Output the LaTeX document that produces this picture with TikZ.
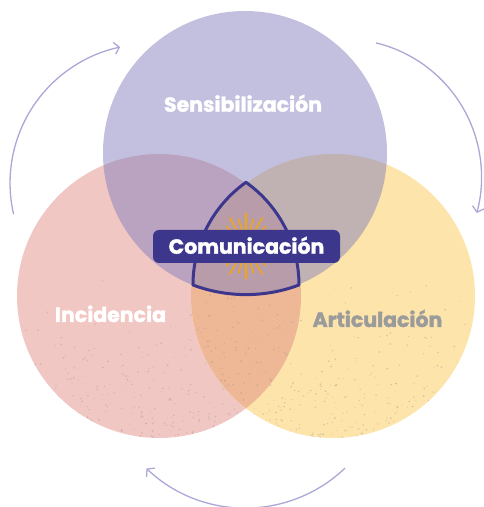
\documentclass[tikz,border=0pt]{standalone}
\usepackage{fontspec}
\setmainfont{Poppins}[BoldFeatures={FakeBold=1.6}]
\usetikzlibrary{arrows.meta}
\definecolor{sensbg}{RGB}{133,129,189}
\definecolor{incbg}{RGB}{241,199,196}
\definecolor{artbg}{RGB}{252,228,170}
\definecolor{mixbg}{RGB}{238,184,150}
\definecolor{combg}{RGB}{60,55,140}
\definecolor{loopc}{RGB}{170,168,215}
\definecolor{raysc}{RGB}{243,168,10}
\definecolor{artfg}{RGB}{155,155,155}
\definecolor{grain}{RGB}{150,140,140}

\begin{document}
\begin{tikzpicture}[x=1pt,y=1pt,font=\bfseries\fontsize{20.5}{24}\selectfont,
    lbl/.style={anchor=base,text=white},
    combox/.style={fill=combg,text=white,rounded corners=6pt,minimum width=187pt,
      minimum height=33pt,text height=14.5pt,text depth=0pt,inner sep=0pt},
    roundarrow/.style={draw=loopc,line width=1.3pt,-{Straight Barb[length=5pt,width=12pt]}},
    ray/.style={draw=raysc,line width=1.4pt},
    speck/.style={fill=grain,fill opacity=0.35}]
  \useasboundingbox (0,0) rectangle (483,507);
  \fill[incbg] (159,211) circle[radius=142];
  \fill[artbg] (333,211) circle[radius=142];
  \begin{scope}
    \clip (159,211) circle[radius=142];
    \fill[mixbg] (333,211) circle[radius=142];
  \end{scope}
  \pgfmathsetseed{17}
  \foreach \cx in {159,333}{
    \begin{scope}
      \clip (\cx,211) circle[radius=142];
      \foreach \i in {1,...,420}
        \fill[speck] ({\cx-142+284*rnd},{69+170*rnd*rnd}) circle[radius={0.4+0.6*rnd}];
    \end{scope}
  }
  \fill[sensbg,fill opacity=0.5] (245,354) circle[radius=142];
  \foreach \a in {0,15,...,345}
    \draw[ray] (246,261) ++(\a:16) -- ++(\a:{mod(\a,30)==0 ? 17 : 12});
  \draw[combg,line width=3pt,line join=round] (246,324.7)
    arc[start angle=125.4,end angle=180,radius=126]
    arc[start angle=249.45,end angle=290.55,radius=151]
    arc[start angle=0,end angle=54.6,radius=126] -- cycle;
  \node[combox] (com) at (246.5,260.5) {Comunicación};
  \node[lbl] (sens) at (243,395.3) {Sensibilización};
  \node[lbl] (inc) at (110.5,185) {Incidencia};
  \node[lbl,text=artfg] (art) at (377.5,180) {Articulación};
  \coordinate (cycl) at (13.6,292.7);
  \coordinate (cycr) at (376,464.1);
  \coordinate (cycb) at (345,38.9);
  \draw[roundarrow] (cycl) arc[start angle=193,end angle=102,radius=139];
  \draw[roundarrow] (cycr) arc[start angle=76.4,end angle=-15.1,radius=138];
  \draw[roundarrow] (cycb) arc[start angle=-46.3,end angle=-133.5,radius=144];
\end{tikzpicture}
\end{document}
